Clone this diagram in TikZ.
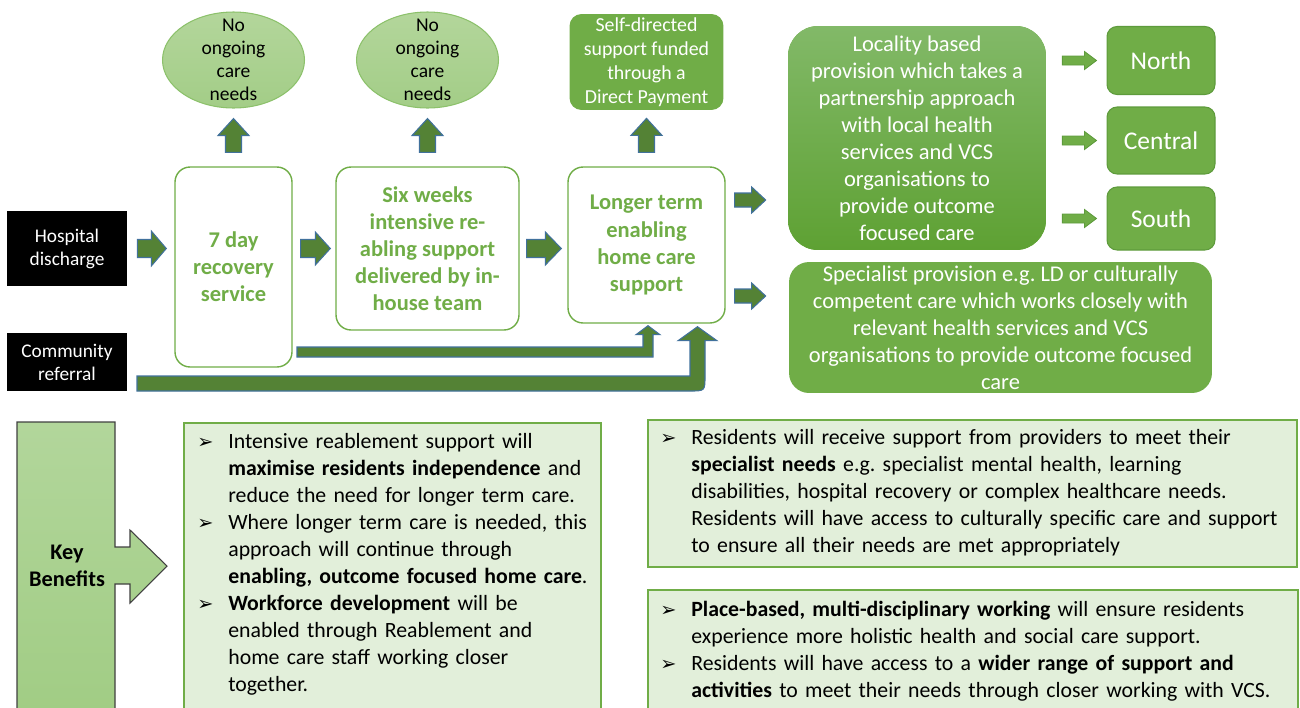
\documentclass[tikz,border=0pt]{standalone}
\usepackage{fontspec}
\setmainfont{Carlito}
\newfontfamily\dingfont{DejaVu Sans}
\usetikzlibrary{shapes.geometric,positioning,calc}
\frenchspacing

\definecolor{lgreen}{HTML}{70AD47}
\definecolor{dgreen}{HTML}{548235}
\definecolor{arrline}{HTML}{41719C}
\definecolor{edgegreen}{HTML}{5E9B3C}
\definecolor{elltop}{HTML}{B3D69B}
\definecolor{ellbot}{HTML}{A3CD87}
\definecolor{ellline}{HTML}{8CC16B}
\definecolor{palegreen}{HTML}{E2EFDA}
\definecolor{loctop}{HTML}{82B968}
\definecolor{locbot}{HTML}{5EA133}
\definecolor{kbtop}{HTML}{B2D69B}
\definecolor{kbbot}{HTML}{A0CC83}

\newcommand{\bul}{{\dingfont\fontsize{11}{11}\selectfont ➢}}
\newcommand{\bitem}[1]{\par\raggedright\noindent\hangindent=0.62cm\hangafter=1\makebox[0.62cm][l]{\bul}#1\par}

% block arrows: style, tail, tip, half shaft, half head, head length
\newcommand{\hblock}[6]{\path[#1] let \p1=#2, \p2=#3 in
  (\x1,{\y1+#4}) -- ({\x2-#6},{\y1+#4}) -- ({\x2-#6},{\y1+#5}) -- (\x2,\y1)
  -- ({\x2-#6},{\y1-#5}) -- ({\x2-#6},{\y1-#4}) -- (\x1,{\y1-#4}) -- cycle;}
\newcommand{\vblock}[6]{\path[#1] let \p1=#2, \p2=#3 in
  ({\x1-#4},\y1) -- ({\x1-#4},{\y2-#6}) -- ({\x1-#5},{\y2-#6}) -- (\x1,\y2)
  -- ({\x1+#5},{\y2-#6}) -- ({\x1+#4},{\y2-#6}) -- ({\x1+#4},\y1) -- cycle;}

\begin{document}
\begin{tikzpicture}[x=0.02cm, y=-0.02cm]
	\tikzset{
		blk/.style={fill=black, text=white, align=center, inner sep=0pt, font=\fontsize{11}{13.1}\selectfont},
		wbox/.style={draw=lgreen, line width=0.8pt, fill=white, rounded corners=0.3cm, align=center, inner sep=2pt, text=lgreen, font=\fontsize{12.8}{15.4}\selectfont\bfseries},
		nocare/.style={ellipse, draw=ellline, line width=0.6pt, top color=elltop, bottom color=ellbot, minimum width=2.84cm, minimum height=1.92cm, inner sep=0pt},
		nctext/.style={align=center, inner sep=0pt, font=\fontsize{11.1}{13.1}\selectfont},
		gbox/.style={fill=lgreen, text=white, rounded corners=0.24cm, align=center, inner sep=1pt, font=\fontsize{12.8}{15.4}\selectfont},
		area/.style={draw=edgegreen, line width=0.6pt, fill=lgreen, text=white, rounded corners=0.2cm, minimum width=2.16cm, font=\fontsize{14.5}{17}\selectfont},
		benbox/.style={draw=lgreen, line width=1.2pt, fill=palegreen, anchor=north west, inner sep=0pt},
		bultext/.style={anchor=north west, inner sep=0pt, font=\fontsize{12.4}{15.4}\selectfont},
		barrow/.style={fill=dgreen, draw=arrline, line width=0.6pt},
		garrow/.style={fill=lgreen, draw=edgegreen, line width=0.5pt},
		kbshape/.style={draw=black!75, line width=0.6pt, top color=kbtop, bottom color=kbbot}
	}

	\useasboundingbox (0,0) rectangle (1300,707);
	\clip (0,0) rectangle (1300,707);

	% entry points
	\node[blk, minimum width=2.4cm, minimum height=1.5cm] (hosp) at (67,248.5) {Hospital\\discharge};
	\node[blk, minimum width=2.4cm, minimum height=1.16cm] (comm) at (67,362) {Community\\referral};

	% pathway boxes
	\node[wbox, minimum width=2.34cm, minimum height=4cm] (rec) at (233.5,267) {7 day\\recovery\\service};
	\node[wbox, minimum width=3.66cm, minimum height=3.26cm] (six) at (427.5,248.5) {Six weeks\\intensive re-\\abling support\\delivered by in-\\house team};
	\node[wbox, minimum width=3.14cm, minimum height=3.12cm] (lt) at (646.5,245) {Longer term\\enabling\\home care\\support};

	% outcomes above
	\node[nocare] (nc1) at (233.5,60) {};
	\node[nctext] (nc1t) at (nc1) {No\\ongoing\\care\\needs};
	\node[nocare] (nc2) at (427.5,60) {};
	\node[nctext] (nc2t) at (nc2) {No\\ongoing\\care\\needs};
	\node[gbox, minimum width=3.08cm, minimum height=1.92cm, font=\fontsize{11.3}{13.6}\selectfont] (sdp) at (646.5,62) {Self-directed\\support funded\\through a\\Direct Payment};

	% provision
	\node[gbox, minimum width=5.16cm, minimum height=4.48cm, rounded corners=0.6cm, top color=loctop, bottom color=locbot] (loc) at (917,138) {Locality based\\provision which takes a\\partnership approach\\with local health\\services and VCS\\organisations to\\provide outcome\\focused care};
	\node[area, minimum height=1.36cm] (north) at (1161,60.5) {North};
	\node[area, minimum height=1.34cm] (central) at (1161,140.5) {Central};
	\node[area, minimum height=1.26cm] (south) at (1161,218.5) {South};
	\node[gbox, minimum width=8.46cm, minimum height=2.62cm, rounded corners=0.4cm] (spec) at (1000.5,327.5) {};
	\node[gbox, fill=none] (spect) at (spec) {Specialist provision e.g. LD or culturally\\competent care which works closely with\\relevant health services and VCS\\organisations to provide outcome focused\\care};

	% block arrows
	\hblock{barrow}{($(hosp.east)+(10,0)$)}{($(rec.west)+(-8,0)$)}{0.18cm}{0.35cm}{0.3cm}
	\hblock{barrow}{($(rec.east |- hosp.east)+(8,0)$)}{($(six.west)+(-5,0)$)}{0.18cm}{0.33cm}{0.3cm}
	\hblock{barrow}{($(six.east |- hosp.east)+(7,0)$)}{($(lt.west)+(-6,0)$)}{0.18cm}{0.33cm}{0.32cm}
	\vblock{barrow}{($(rec.north)+(0,-14)$)}{($(nc1.south)+(0,10)$)}{0.16cm}{0.31cm}{0.34cm}
	\vblock{barrow}{($(six.north)+(0,-14)$)}{($(nc2.south)+(0,10)$)}{0.16cm}{0.31cm}{0.34cm}
	\vblock{barrow}{($(lt.north)+(0,-14)$)}{($(sdp.south)+(0,8)$)}{0.16cm}{0.31cm}{0.34cm}
	\hblock{barrow}{($(lt.east |- 0,200)+(9,0)$)}{($(loc.west)+(-22,0)$)}{0.14cm}{0.26cm}{0.28cm}
	\hblock{barrow}{($(lt.east |- 0,296)+(9,0)$)}{($(loc.west)+(-22,0)$)}{0.14cm}{0.26cm}{0.28cm}
	\hblock{garrow}{($(loc.east |- north)+(16,0)$)}{($(north.west)+(-10,0)$)}{0.09cm}{0.18cm}{0.24cm}
	\hblock{garrow}{($(loc.east |- central)+(16,0)$)}{($(central.west)+(-10,0)$)}{0.09cm}{0.18cm}{0.24cm}
	\hblock{garrow}{($(loc.east |- south)+(16,0)$)}{($(south.west)+(-10,0)$)}{0.09cm}{0.18cm}{0.24cm}

	% routes into longer term care
	\coordinate (b1) at (297,352);
	\coordinate (b2) at (137,383.5);
	\path[barrow] let \p1=(b1), \p2=($(lt.south)+(1.5,2)$) in
		(\x1,{\y1+0.1cm}) -- ({\x2-0.1cm},{\y1+0.1cm}) -- ({\x2-0.1cm},{\y2-0.18cm}) -- ({\x2-0.24cm},{\y2-0.18cm})
		-- (\x2,\y2) -- ({\x2+0.24cm},{\y2-0.18cm}) -- ({\x2+0.1cm},{\y2-0.18cm}) -- ({\x2+0.1cm},{\y1-0.1cm}) -- (\x1,{\y1-0.1cm}) -- cycle;
	\path[barrow] let \p1=(b2), \p2=($(lt.south)+(51,3)$) in
		(\x1,{\y1+0.15cm}) -- ({\x2-0.15cm},{\y1+0.15cm}) -- ({\x2-0.15cm},{\y2-0.28cm}) -- ({\x2-0.39cm},{\y2-0.28cm})
		-- (\x2,\y2) -- ({\x2+0.39cm},{\y2-0.28cm}) -- ({\x2+0.15cm},{\y2-0.28cm}) -- ({\x2+0.15cm},{\y1-0.15cm+0.3cm})
		.. controls ({\x2+0.15cm},{\y1-0.15cm}) .. ({\x2+0.15cm-0.3cm},{\y1-0.15cm}) -- (\x1,{\y1-0.15cm}) -- cycle;

	% key benefits
	\path[kbshape] (17,730) -- (17,422) -- (115,422) -- (115,547) -- (130,547) -- (130,530) -- (167,566)
		-- (130,603) -- (130,584) -- (115,584) -- (115,730) -- cycle;
	\node[align=center, font=\fontsize{12.7}{15.4}\selectfont\bfseries] (kb) at (67,566) {Key\\Benefits};

	\node[benbox, minimum width=8.34cm, minimum height=6cm] (ben1) at (183,422) {};
	\node[benbox, minimum width=12.98cm, minimum height=2.94cm] (ben2) at (647,419) {};
	\node[benbox, minimum width=13cm, minimum height=2.66cm] (ben3) at (647,589) {};

	\node[bultext, text width=8.2cm] (ben1t) at ($(ben1.north west)+(14,-1)$) {%
		\bitem{Intensive reablement support will\newline\textbf{maximise residents independence} and\newline reduce the need for longer term care.}
		\bitem{Where longer term care is needed, this\newline approach will continue through\newline\textbf{enabling, outcome focused home care}.}
		\bitem{\textbf{Workforce development} will be\newline enabled through Reablement and\newline home care staff working closer\newline together.}};
	\node[bultext, text width=12.9cm] (ben2t) at ($(ben2.north west)+(13,-2)$) {%
		\bitem{Residents will receive support from providers to meet their\newline\textbf{specialist needs} e.g. specialist mental health, learning\newline disabilities, hospital recovery or complex healthcare needs.\newline Residents will have access to culturally specific care and support\newline to ensure all their needs are met appropriately}};
	\node[bultext, text width=12.9cm] (ben3t) at ($(ben3.north west)+(13,0)$) {%
		\bitem{\textbf{Place-based, multi-disciplinary working} will ensure residents\newline experience more holistic health and social care support.}
		\bitem{Residents will have access to a \textbf{wider range of support and}\newline\textbf{activities} to meet their needs through closer working with VCS.}};

\end{tikzpicture}
\end{document}
